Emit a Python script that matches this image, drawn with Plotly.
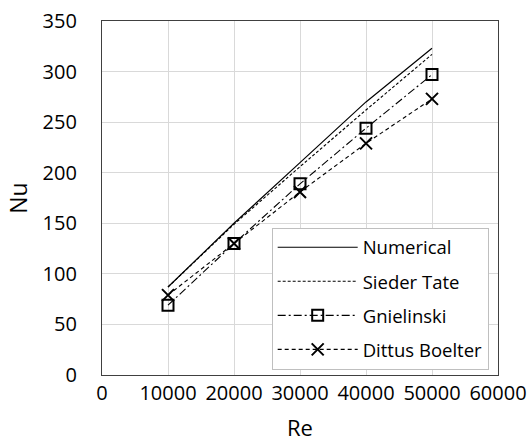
import plotly.graph_objects as go

re_vals = [10000, 20000, 30000, 40000, 50000]
nu_numerical = [87, 150, 210, 270, 323]
nu_sieder_tate = [87, 149, 206, 262, 317]
nu_gnielinski = [69, 130, 189, 244, 297]
nu_dittus_boelter = [79, 130, 181, 229, 273]

x_ticks = [0, 10000, 20000, 30000, 40000, 50000, 60000]
y_ticks = [0, 50, 100, 150, 200, 250, 300, 350]

FONT = "Open Sans"

fig = go.Figure()
fig.add_trace(go.Scatter(x=re_vals, y=nu_numerical, name="Numerical", mode="lines",
                         legendgroup="a",
                         line=dict(color="black", width=1.2)))
fig.add_trace(go.Scatter(x=re_vals, y=nu_sieder_tate, name="Sieder Tate", mode="lines",
                         legendgroup="b",
                         line=dict(color="black", width=1.1, dash="3px,2px")))
fig.add_trace(go.Scatter(x=re_vals, y=nu_gnielinski, name="Gnielinski", mode="lines+markers",
                         legendgroup="c",
                         line=dict(color="black", width=1.1, dash="8px,3px,2px,3px"),
                         marker=dict(symbol="square-open", size=11, color="black",
                                     line=dict(width=2, color="black"))))
fig.add_trace(go.Scatter(x=re_vals, y=nu_dittus_boelter, name="Dittus Boelter", mode="lines+markers",
                         legendgroup="d",
                         line=dict(color="black", width=1.1, dash="4px,3px"),
                         marker=dict(symbol="x-thin-open", size=12, color="black",
                                     line=dict(width=2, color="black"))))

fig.update_layout(
    width=531, height=443,
    margin=dict(l=102, r=33, t=21, b=68),
    paper_bgcolor="white", plot_bgcolor="white",
    font=dict(family=FONT, size=20, color="black"),
    showlegend=True,
    legend=dict(x=0.4285, y=0.416, xanchor="left", yanchor="top",
                bgcolor="white", bordercolor="#bfbfbf", borderwidth=1,
                font=dict(family=FONT, size=18.5, color="black"),
                itemwidth=80,
                traceorder="grouped", tracegroupgap=7),
    annotations=[dict(text="Re", xref="paper", yref="paper", x=0.5, y=-0.147,
                      xanchor="center", yanchor="middle", showarrow=False,
                      font=dict(family=FONT, size=22, color="black"))],
)
fig.update_xaxes(range=[0, 60000], tickvals=x_ticks, ticktext=[str(v) for v in x_ticks],
                 automargin=False,
                 showgrid=True, gridcolor="#d9d9d9", gridwidth=1,
                 showline=True, linecolor="#404040", linewidth=1.3, mirror=True,
                 zeroline=False, ticks="", ticklabelstandoff=0)
fig.update_yaxes(range=[0, 350], tickvals=y_ticks, ticktext=[str(v) for v in y_ticks],
                 automargin=False,
                 showgrid=True, gridcolor="#d9d9d9", gridwidth=1,
                 showline=True, linecolor="#404040", linewidth=1.3, mirror=True,
                 zeroline=False, ticks="", ticklabelstandoff=20,
                 title=dict(text="Nu", font=dict(family=FONT, size=23), standoff=8))

fig.write_html("out.html")
